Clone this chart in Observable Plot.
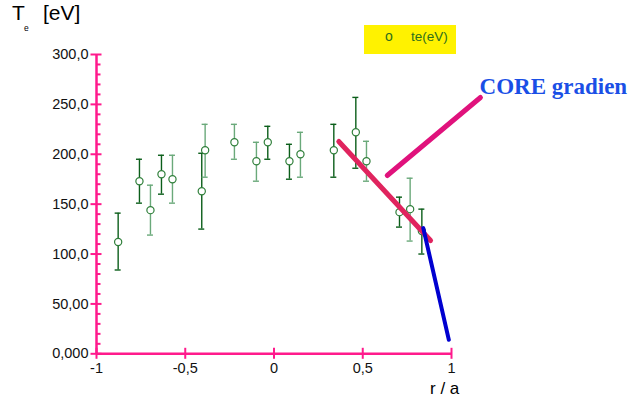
<!DOCTYPE html>
<html>
<head>
<meta charset="utf-8">
<script src="https://cdn.jsdelivr.net/npm/d3@7"></script>
<script src="https://cdn.jsdelivr.net/npm/@observablehq/plot@0.6"></script>
<style>
  body { margin: 0; background: #fff; font-family: "Liberation Sans", Arial, sans-serif; }
  #wrap { position: relative; width: 636px; height: 406px; }
  #wrap svg { position: absolute; left: 0; top: 0; }
  .ov { position: absolute; white-space: nowrap; color: #000; }
</style>
</head>
<body>
<div id="wrap">
  <div class="ov" style="left:12px; top:1px; font-size:21px;">T</div>
  <div class="ov" style="left:24px; top:23px; font-size:8.5px;">e</div>
  <div class="ov" style="left:43px; top:1px; font-size:21px;">[eV]</div>
  <div class="ov" style="left:364px; top:25px; width:92px; height:29px; background:#fff200;"></div>
  <div class="ov" style="left:385px; top:28px; font-size:14px; color:#2e6e1e;">o</div>
  <div class="ov" style="left:411px; top:29px; font-size:13.5px; color:#2e6e1e;">te(eV)</div>
  <div class="ov" style="left:430px; top:379px; font-size:17px;">r / a</div>
</div>
<script>
// ---- data ----
const rPos   = [-0.878, -0.758, -0.696, -0.634, -0.572, -0.407, -0.388, -0.223, -0.099, -0.035, 0.087, 0.149, 0.337, 0.461, 0.521, 0.707, 0.767, 0.833];
const te     = [112, 173, 144, 180, 175, 163, 204, 212, 193, 212, 193, 200, 204, 222, 193, 142, 145, 123];
const teLow  = [84, 151, 119, 160, 151, 125, 177, 195, 173, 195, 175, 177, 177, 186, 173, 127, 113, 100];
const teHigh = [141, 195, 169, 199, 199, 201, 230, 230, 212, 228, 210, 222, 230, 257, 213, 157, 176, 145];
const tone   = ["d","d","l","d","l","d","l","l","l","d","d","l","d","d","l","d","l","d"];

const yTicks = [0, 50, 100, 150, 200, 250, 300];
const yTickLabels = ["0,000", "50,00", "100,0", "150,0", "200,0", "250,0", "300,0"];
const yMinor = d3.range(10, 300, 10).filter(v => v % 50 !== 0);
const xTicks = [-1, -0.5, 0, 0.5, 1];
const xTickLabels = ["-1", "-0,5", "0", "0,5", "1"];

const coreLine  = [{x: 0.365, y: 212.8}, {x: 0.882, y: 113.5}];
const edgeLine  = [{x: 0.841, y: 126}, {x: 0.985, y: 14}];
const arrowLine = [{x: 0.638, y: 178.7}, {x: 1.163, y: 256.9}];
const noteText  = [{x: 1.158, y: 268, label: "CORE gradien"}];

const pts = rPos.map((x, i) => ({x, y: te[i], lo: teLow[i], hi: teHigh[i], tone: tone[i]}));

const axisColor = "#ff1a8c";
const darkG = "#0b5e1a", lightG = "#6aa97a", dotG = "#2f7f3a";

const chart = Plot.plot({
  width: 636,
  height: 406,
  marginLeft: 96,
  marginRight: 185,
  marginTop: 54,
  marginBottom: 52.7,
  x: {domain: [-1, 1], axis: null},
  y: {domain: [0, 300], axis: null},
  style: {fontFamily: "Liberation Sans, Arial, sans-serif", background: "transparent", overflow: "visible"},
  marks: [
    // axes
    Plot.ruleY([0], {x1: -1, x2: 1, stroke: axisColor, strokeWidth: 2.5}),
    Plot.ruleX([-1], {y1: 0, y2: 300, stroke: axisColor, strokeWidth: 2.5}),
    Plot.ruleY(yTicks, {y: d => d, x1: -1, x2: -1, insetLeft: -5.5, insetRight: -5.5, stroke: axisColor, strokeWidth: 2}),
    Plot.ruleY(yMinor, {y: d => d, x1: -1, x2: -1, insetLeft: 0, insetRight: -4.5, stroke: axisColor, strokeWidth: 2}),
    Plot.ruleX(xTicks, {x: d => d, y1: 0, y2: 0, insetTop: -5.5, insetBottom: -5.5, stroke: axisColor, strokeWidth: 2}),
    Plot.text(yTicks, {x: -1, y: d => d, text: (d, i) => yTickLabels[i], dx: -8, textAnchor: "end", fontSize: 14.5, fill: "#111"}),
    Plot.text(xTicks, {x: d => d, y: 0, text: (d, i) => xTickLabels[i], dy: 9, lineAnchor: "top", fontSize: 14.5, fill: "#111"}),
    // error bars
    Plot.ruleX(pts, {x: "x", y1: "lo", y2: "hi", stroke: d => d.tone === "d" ? darkG : lightG, strokeWidth: 1.4}),
    Plot.ruleY(pts, {y: "lo", x1: "x", x2: "x", insetLeft: -3, insetRight: -3, stroke: d => d.tone === "d" ? darkG : lightG, strokeWidth: 1.4}),
    Plot.ruleY(pts, {y: "hi", x1: "x", x2: "x", insetLeft: -3, insetRight: -3, stroke: d => d.tone === "d" ? darkG : lightG, strokeWidth: 1.4}),
    Plot.dot(pts, {x: "x", y: "y", r: 3.6, stroke: dotG, fill: "white", strokeWidth: 1.2}),
    // annotation lines
    Plot.line(coreLine, {x: "x", y: "y", stroke: "#e0245e", strokeWidth: 5}),
    Plot.line(edgeLine, {x: "x", y: "y", stroke: "#0000d0", strokeWidth: 4}),
    Plot.line(arrowLine, {x: "x", y: "y", stroke: "#e0127c", strokeWidth: 5}),
    Plot.text(noteText, {x: "x", y: "y", text: "label", textAnchor: "start", fontFamily: "Liberation Serif, Times New Roman, serif", fontWeight: "bold", fontSize: 23, fill: "#1a4fe6"})
  ]
});
chart.setAttribute("overflow", "visible");
document.getElementById("wrap").prepend(chart);
</script>
</body>
</html>
